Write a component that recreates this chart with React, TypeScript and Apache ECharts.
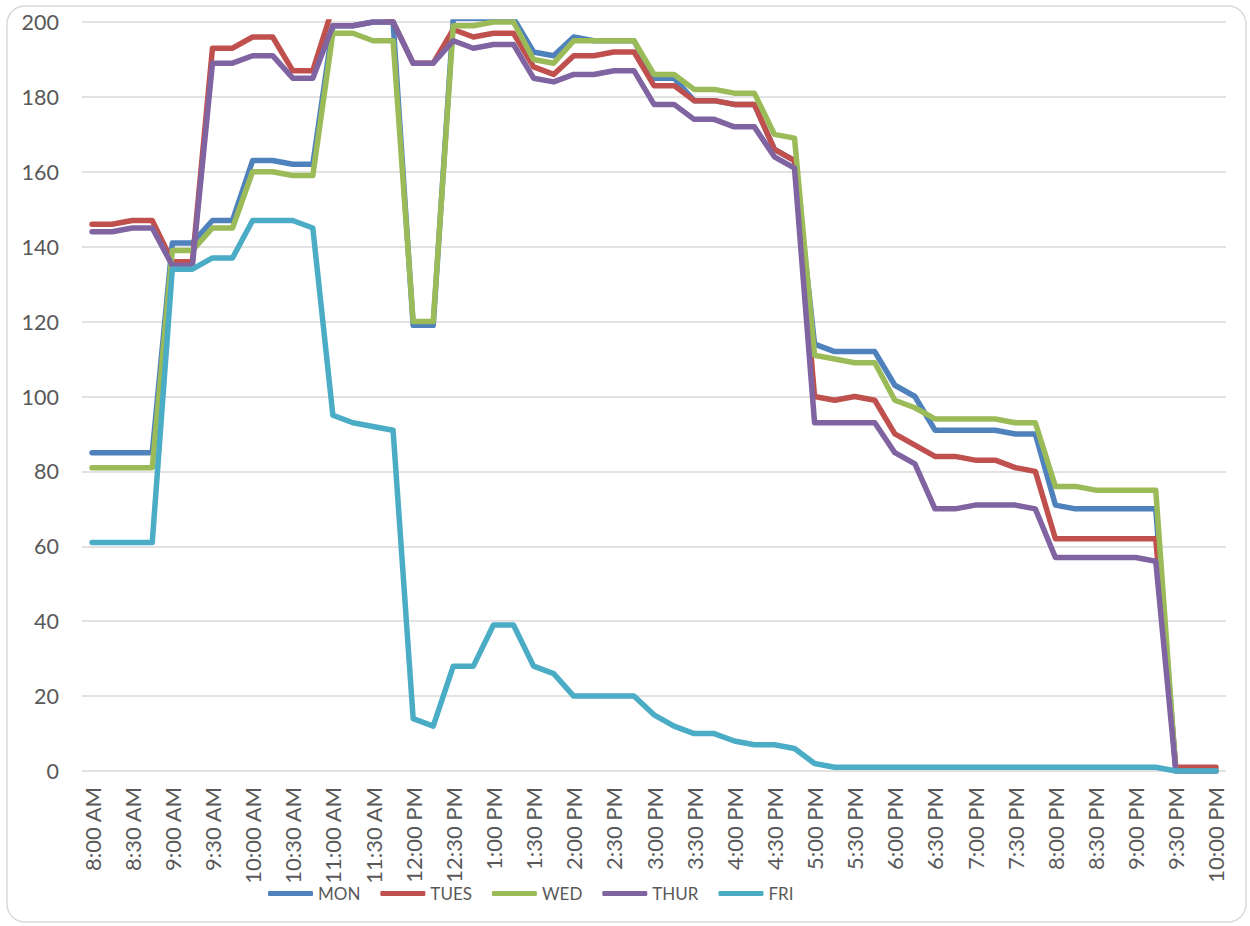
import React, { useEffect, useRef } from 'react';
import * as echarts from 'echarts';

const times = [
  '8:00 AM', '8:15 AM', '8:30 AM', '8:45 AM', '9:00 AM', '9:15 AM', '9:30 AM', '9:45 AM',
  '10:00 AM', '10:15 AM', '10:30 AM', '10:45 AM', '11:00 AM', '11:15 AM', '11:30 AM', '11:45 AM',
  '12:00 PM', '12:15 PM', '12:30 PM', '12:45 PM', '1:00 PM', '1:15 PM', '1:30 PM', '1:45 PM',
  '2:00 PM', '2:15 PM', '2:30 PM', '2:45 PM', '3:00 PM', '3:15 PM', '3:30 PM', '3:45 PM',
  '4:00 PM', '4:15 PM', '4:30 PM', '4:45 PM', '5:00 PM', '5:15 PM', '5:30 PM', '5:45 PM',
  '6:00 PM', '6:15 PM', '6:30 PM', '6:45 PM', '7:00 PM', '7:15 PM', '7:30 PM', '7:45 PM',
  '8:00 PM', '8:15 PM', '8:30 PM', '8:45 PM', '9:00 PM', '9:15 PM', '9:30 PM', '9:45 PM',
  '10:00 PM',
];

const mon = [
  85, 85, 85, 85, 141, 141, 147, 147, 163, 163, 162, 162, 199, 199, 200, 200,
  119, 119, 201, 201, 201, 201, 192, 191, 196, 195, 195, 195, 185, 185, 179, 179,
  178, 178, 166, 163, 114, 112, 112, 112, 103, 100, 91, 91, 91, 91, 90, 90,
  71, 70, 70, 70, 70, 70, 0, 0, 0,
];

const tues = [
  146, 146, 147, 147, 136, 136, 193, 193, 196, 196, 187, 187, 204, 205, 204, 200,
  189, 189, 198, 196, 197, 197, 188, 186, 191, 191, 192, 192, 183, 183, 179, 179,
  178, 178, 166, 163, 100, 99, 100, 99, 90, 87, 84, 84, 83, 83, 81, 80,
  62, 62, 62, 62, 62, 62, 1, 1, 1,
];

const wed = [
  81, 81, 81, 81, 139, 139, 145, 145, 160, 160, 159, 159, 197, 197, 195, 195,
  120, 120, 199, 199, 200, 200, 190, 189, 195, 195, 195, 195, 186, 186, 182, 182,
  181, 181, 170, 169, 111, 110, 109, 109, 99, 97, 94, 94, 94, 94, 93, 93,
  76, 76, 75, 75, 75, 75, 0, 0, 0,
];

const thur = [
  144, 144, 145, 145, 135, 135, 189, 189, 191, 191, 185, 185, 199, 199, 200, 200,
  189, 189, 195, 193, 194, 194, 185, 184, 186, 186, 187, 187, 178, 178, 174, 174,
  172, 172, 164, 161, 93, 93, 93, 93, 85, 82, 70, 70, 71, 71, 71, 70,
  57, 57, 57, 57, 57, 56, 0, 0, 0,
];

const fri = [
  61, 61, 61, 61, 134, 134, 137, 137, 147, 147, 147, 145, 95, 93, 92, 91,
  14, 12, 28, 28, 39, 39, 28, 26, 20, 20, 20, 20, 15, 12, 10, 10,
  8, 7, 7, 6, 2, 1, 1, 1, 1, 1, 1, 1, 1, 1, 1, 1,
  1, 1, 1, 1, 1, 1, 0, 0, 0,
];

const seriesNames = ['MON', 'TUES', 'WED', 'THUR', 'FRI'];
const seriesData = [mon, tues, wed, thur, fri];
const colors = ['#4f81bd', '#c0504d', '#9bbb59', '#8064a2', '#4bacc6'];

const FONT = 'Lato, "Open Sans", sans-serif';
const TEXT = '#595959';

export default function App() {
  const ref = useRef<HTMLDivElement>(null);

  useEffect(() => {
    if (!ref.current) return;
    const chart = echarts.init(ref.current, undefined, { renderer: 'svg' });
    chart.setOption({
      animation: false,
      backgroundColor: '#ffffff',
      color: colors,
      textStyle: { fontFamily: FONT },
      graphic: [
        {
          type: 'rect',
          z: -10,
          shape: { x: 7, y: 6, width: 1239, height: 916, r: 18 },
          style: { fill: 'none', stroke: '#d9d9d9', lineWidth: 1.5 },
          silent: true,
        },
      ],
      grid: { left: 82, right: 24, top: 22, bottom: 155, containLabel: false },
      legend: {
        data: seriesNames,
        left: 263,
        top: 880,
        icon: 'roundRect',
        itemWidth: 45,
        itemHeight: 5,
        itemGap: 20,
        textStyle: { fontSize: 17, color: TEXT, fontFamily: FONT },
      },
      xAxis: {
        type: 'category',
        data: times,
        boundaryGap: true,
        axisLine: { show: false },
        axisTick: { show: false },
        axisLabel: {
          interval: 1,
          rotate: 90,
          margin: 16,
          fontSize: 22,
          color: TEXT,
          fontFamily: FONT,
        },
        splitLine: { show: false },
      },
      yAxis: {
        type: 'value',
        min: 0,
        max: 200,
        interval: 20,
        axisLine: { show: false },
        axisTick: { show: false },
        axisLabel: { margin: 23, fontSize: 21.5, color: TEXT, fontFamily: FONT },
        splitLine: { show: true, lineStyle: { color: '#d9d9d9', width: 1.5 } },
      },
      series: seriesNames.map((name, i) => ({
        name,
        type: 'line',
        data: seriesData[i],
        symbol: 'none',
        smooth: false,
        clip: true,
        lineStyle: { width: 5.5, color: colors[i], cap: 'round', join: 'round' },
        itemStyle: { color: colors[i] },
      })),
    });
    return () => chart.dispose();
  }, []);

  return (
    <div
      ref={ref}
      style={{ position: 'absolute', left: 0, top: 0, width: 1250, height: 926 }}
    />
  );
}
